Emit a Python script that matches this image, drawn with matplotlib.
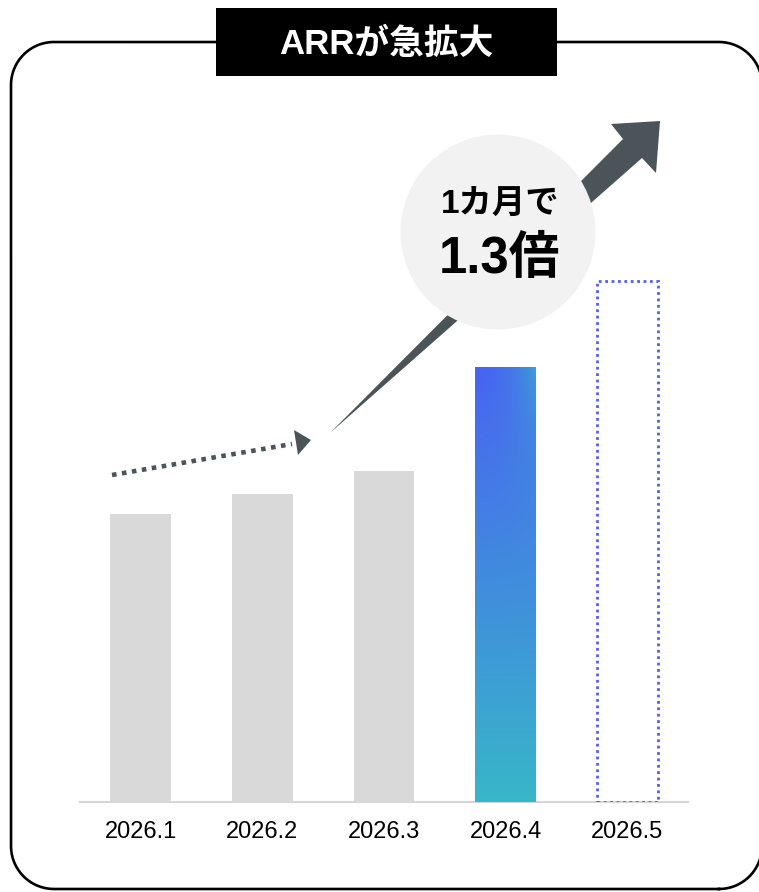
import numpy as np
import matplotlib
matplotlib.use("Agg")
import matplotlib.pyplot as plt
from matplotlib.patches import Rectangle, Circle, Polygon

plt.rcParams['font.family'] = ['Liberation Sans', 'Noto Sans CJK JP']

# ARR by month (index, Jan = 100)
months = ["2026.1", "2026.2", "2026.3", "2026.4", "2026.5"]
arr_values = [100, 107, 115, 151]
arr_forecast = 181
growth_label = "1.3倍"

W, H = 759, 892
fig = plt.figure(figsize=(W / 100, H / 100), dpi=100)
fig.patch.set_facecolor("white")

# bar chart axes, placed in pixel units
left, right, base, top = 80, 688, 802, 226
ax = fig.add_axes([left / W, (H - base) / H, (right - left) / W, (base - top) / H])
ax.set_facecolor("none")

x = np.arange(len(months))
bw = 0.5
ax.bar(x[:3], arr_values[:3], width=bw, color="#d9d9d9", zorder=2)

# gradient fill for the latest month
ny, nx = 200, 60
yn = np.linspace(0, 1, ny)[:, None]
xn = np.linspace(0, 1, nx)[None, :]
t = (1 - yn) + 0.7 * xn ** 2 * yn ** 5
t = np.clip(t, 0, 1)
c_top = np.array([73, 99, 243]) / 255
c_bot = np.array([56, 182, 200]) / 255
img = c_top[None, None, :] * (1 - t[..., None]) + c_bot[None, None, :] * t[..., None]
ax.imshow(img, origin="lower", aspect="auto", interpolation="bilinear",
          extent=(x[3] - bw / 2, x[3] + bw / 2, 0, arr_values[3]), zorder=2)

# forecast bar outline
ax.add_patch(Rectangle((x[4] - bw / 2, 0), bw, arr_forecast, fill=False,
                       edgecolor="#4f5ff0", linewidth=2.0,
                       linestyle=(0, (1, 1.3)), zorder=3))

ax.set_xlim(-0.5, 4.5)
ax.set_ylim(0, 200)
for s in ["top", "right", "left"]:
    ax.spines[s].set_visible(False)
ax.spines["bottom"].set_color("#d6d6d6")
ax.spines["bottom"].set_linewidth(1.5)
ax.spines["bottom"].set_zorder(1)
ax.set_yticks([])
ax.set_xticks(x)
ax.set_xticklabels(months, fontsize=17, color="black")
ax.tick_params(axis="x", length=0, pad=14)

# overlay in pixel coordinates (y measured from the top) for frame, title, arrows
ov = fig.add_axes([0, 0, 1, 1], zorder=5)
ov.set_xlim(0, W)
ov.set_ylim(0, H)
ov.axis("off")
ov.patch.set_alpha(0)


def px(pts):
    return [(a, H - b) for a, b in pts]


def rounded_frame(x0, y0, x1, y1, r, n=40):
    # closed outline with quarter-circle corners, as plain line segments
    xs, ys = [], []
    corners = [(x1 - r, y0 + r, -90, 0), (x1 - r, y1 - r, 0, 90),
               (x0 + r, y1 - r, 90, 180), (x0 + r, y0 + r, 180, 270)]
    for cx, cy, a0, a1 in corners:
        ang = np.radians(np.linspace(a0, a1, n))
        xs.extend(cx + r * np.cos(ang))
        ys.extend(cy + r * np.sin(ang))
    xs.append(xs[0])
    ys.append(ys[0])
    return xs, ys


fx, fy = rounded_frame(11, H - 889, 762, H - 42, 43)
ov.plot(fx, fy, color="black", linewidth=1.9, clip_on=False,
        solid_joinstyle="round")

ov.add_patch(Rectangle((216, H - 76), 341, 68, facecolor="black", edgecolor="none"))
ov.text(386.5, H - 44, "ARRが急拡大", color="white", fontsize=25, fontweight="bold",
        ha="center", va="center")

dark = "#4b5458"
# dotted trend arrow
ov.plot([112, 292], [H - 475, H - 444], color=dark, linewidth=3.3,
        linestyle=(0, (1, 1.2)), dash_capstyle="butt")
ov.add_patch(Polygon(px([(311, 440), (294, 430), (298, 455)]), closed=True,
                     facecolor=dark, edgecolor="none"))

# tapered growth arrow
ov.add_patch(Polygon(px([(330, 433), (623, 139), (611, 124), (660, 121),
                         (656, 173), (642, 158)]), closed=True,
                     facecolor=dark, edgecolor="none"))

ov.add_patch(Circle((498, H - 232), 97.5, facecolor="#f2f2f2", edgecolor="none"))
ov.text(500, H - 205, "1カ月で", fontsize=24, fontweight="bold", color="black",
        ha="center", va="center")
ov.text(500, H - 260, growth_label, fontsize=36.5, fontweight="bold", color="black",
        ha="center", va="center")

fig.savefig("out.png", dpi=100, facecolor="white")
